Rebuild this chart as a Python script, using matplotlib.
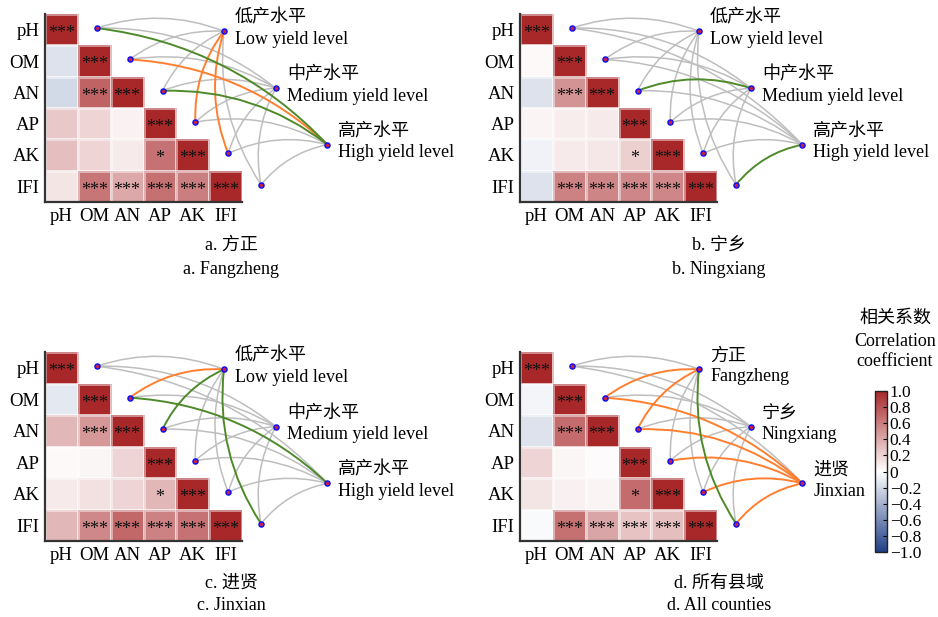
import numpy as np
import matplotlib
matplotlib.use('Agg')
import matplotlib.pyplot as plt
from matplotlib.colors import LinearSegmentedColormap, Normalize
from matplotlib.patches import FancyArrowPatch
import matplotlib.cm as cm

plt.rcParams['font.family'] = ['Liberation Serif', 'Noto Sans CJK SC']
plt.rcParams['axes.unicode_minus'] = True

variables = ['pH', 'OM', 'AN', 'AP', 'AK', 'IFI']

# lower-triangle correlations (row i, columns j < i)
corr_a = [[-0.15], [-0.20, 0.72], [0.25, 0.20, 0.06], [0.30, 0.20, 0.10, 0.65],
          [0.12, 0.64, 0.40, 0.66, 0.60]]
corr_b = [[0.03], [-0.15, 0.50], [0.05, 0.08, 0.10], [-0.07, 0.10, 0.11, 0.22],
          [-0.15, 0.58, 0.57, 0.56, 0.56]]
corr_c = [[-0.12], [0.33, 0.48], [0.03, 0.04, 0.20], [0.10, 0.14, 0.20, 0.33],
          [0.33, 0.55, 0.70, 0.58, 0.65]]
corr_d = [[-0.05], [-0.15, 0.68], [0.20, 0.04, 0.02], [0.12, 0.07, 0.05, 0.68],
          [-0.03, 0.66, 0.42, 0.28, 0.30]]

# significance stars (same in all panels), lower triangle rows
stars_lower = [[''], ['', '***'], ['', '', ''], ['', '', '', '*'],
               ['', '***', '***', '***', '***']]
stars_diag = '***'

# link classes feature -> target (rows: pH..IFI; cols: three targets)
# 'n' = grey, 'o' = orange, 'g' = green
links_a = [['n', 'n', 'g'], ['n', 'n', 'o'], ['n', 'n', 'g'],
           ['o', 'n', 'n'], ['o', 'n', 'n'], ['n', 'n', 'n']]
links_b = [['n', 'n', 'n'], ['n', 'n', 'n'], ['n', 'g', 'n'],
           ['n', 'n', 'n'], ['n', 'n', 'n'], ['n', 'n', 'g']]
links_c = [['n', 'n', 'n'], ['o', 'n', 'g'], ['g', 'n', 'n'],
           ['n', 'n', 'n'], ['n', 'n', 'n'], ['g', 'n', 'n']]
links_d = [['n', 'n', 'n'], ['o', 'n', 'o'], ['o', 'n', 'o'],
           ['n', 'n', 'o'], ['n', 'n', 'o'], ['g', 'n', 'o']]

targets_yield = ['低产水平\nLow yield level', '中产水平\nMedium yield level',
                 '高产水平\nHigh yield level']
targets_county = ['方正\nFangzheng', '宁乡\nNingxiang', '进贤\nJinxian']

captions = [('a. 方正', 'a. Fangzheng'), ('b. 宁乡', 'b. Ningxiang'),
            ('c. 进贤', 'c. Jinxian'), ('d. 所有县域', 'd. All counties')]

cbar_ticks = [1.0, 0.8, 0.6, 0.4, 0.2, 0.0, -0.2, -0.4, -0.6, -0.8, -1.0]
cbar_labels = ['1.0', '0.8', '0.6', '0.4', '0.2', '0', '\u22120.2', '\u22120.4',
               '\u22120.6', '\u22120.8', '\u22121.0']

# ---------------------------------------------------------------------------
cmap = LinearSegmentedColormap.from_list('rb', ['#1F3F85', '#FFFFFF', '#A8282A'])
norm = Normalize(-1, 1)
link_colors = {'n': '#BEBEBE', 'o': '#FF7F2F', 'g': '#4E8A2A'}
link_lw = {'n': 1.1, 'o': 1.4, 'g': 1.4}

W, H = 938, 617
fig = plt.figure(figsize=(W / 100, H / 100), dpi=100)


def fig_rect(x0, y0, x1, y1):
    return [x0 / W, 1 - y1 / H, (x1 - x0) / W, (y1 - y0) / H]


def full_matrix(lower):
    n = len(variables)
    M = np.full((n, n), np.nan)
    for i in range(n):
        M[i, i] = 1.0
    for i, row in enumerate(lower, start=1):
        for j, v in enumerate(row):
            M[i, j] = v
    return M


def draw_panel(rect, lower, links, targets):
    ax = fig.add_axes(rect)
    M = np.ma.masked_invalid(full_matrix(lower))
    n = len(variables)
    ax.pcolormesh(np.arange(n + 1), np.arange(n + 1), M, cmap=cmap, norm=norm,
                  edgecolors=(1, 1, 1, 0.45), linewidth=0.8)
    ax.set_xlim(0, n)
    ax.set_ylim(n, 0)
    ax.set_xticks(np.arange(n) + 0.5)
    ax.set_yticks(np.arange(n) + 0.5)
    ax.set_xticklabels(variables, fontsize=13.5)
    ax.set_yticklabels(variables, fontsize=13.5)
    ax.tick_params(length=0, pad=4)
    for s in ['top', 'right']:
        ax.spines[s].set_visible(False)
    for s in ['left', 'bottom']:
        ax.spines[s].set_color('#333333')
        ax.spines[s].set_linewidth(1.6)
    # stars
    for i in range(n):
        ax.text(i + 0.5, i + 0.62, stars_diag, ha='center', va='center',
                fontsize=13, color='#111111')
    for i, row in enumerate(stars_lower, start=1):
        for j, s in enumerate(row):
            if s:
                ax.text(j + 0.5, i + 0.62, s, ha='center', va='center',
                        fontsize=13, color='#111111')
    # nodes
    feat = [(i + 1.58, i + 0.45) for i in range(n)]
    targ = [(5.45, 0.55), (7.03, 2.37), (8.6, 4.17)]
    for order in ['n', 'o', 'g']:
        for i in range(n):
            for k in range(3):
                c = links[i][k]
                if c != order:
                    continue
                p = FancyArrowPatch(feat[i], targ[k], arrowstyle='-',
                                    connectionstyle='arc3,rad=-0.18',
                                    shrinkA=0, shrinkB=0, color=link_colors[c],
                                    lw=link_lw[c], clip_on=False, zorder=3)
                ax.add_patch(p)
    for (x, y) in feat + targ:
        ax.plot([x], [y], 'o', ms=3.6, mfc='#D02040', mec='#1010F0', mew=1.1,
                clip_on=False, zorder=5)
    for (x, y), t in zip(targ, targets):
        ax.annotate(t, (x, y), xytext=(8, 2), textcoords='offset points',
                    ha='left', va='center', fontsize=13, linespacing=1.3,
                    annotation_clip=False)
    return ax


draw_panel(fig_rect(45, 14, 242, 202), corr_a, links_a, targets_yield)
draw_panel(fig_rect(520, 14, 717, 202), corr_b, links_b, targets_yield)
draw_panel(fig_rect(45, 352, 242, 541), corr_c, links_c, targets_yield)
draw_panel(fig_rect(520, 352, 717, 541), corr_d, links_d, targets_county)

cap_pos = [(231, 245, 269), (719, 245, 269), (231, 583, 606), (719, 583, 606)]
for (zh, en), (x, y1, y2) in zip(captions, cap_pos):
    fig.text(x / W, 1 - y1 / H, zh, ha='center', va='center', fontsize=13)
    fig.text(x / W, 1 - y2 / H, en, ha='center', va='center', fontsize=13)

# colorbar
cax = fig.add_axes(fig_rect(875, 391, 887, 552))
cb = fig.colorbar(cm.ScalarMappable(norm=norm, cmap=cmap), cax=cax)
cb.set_ticks(cbar_ticks)
cb.set_ticklabels(cbar_labels)
cb.ax.tick_params(labelsize=12.5, length=3, width=0.8, direction='in', pad=2)
cb.outline.set_linewidth(1.0)
cb.outline.set_edgecolor('#222222')
fig.text(895 / W, 1 - 318 / H, '相关系数', ha='center', va='center', fontsize=13)
fig.text(895 / W, 1 - 341 / H, 'Correlation', ha='center', va='center', fontsize=13)
fig.text(895 / W, 1 - 362 / H, 'coefficient', ha='center', va='center', fontsize=13)

fig.savefig('out.png', dpi=100, facecolor='white')
